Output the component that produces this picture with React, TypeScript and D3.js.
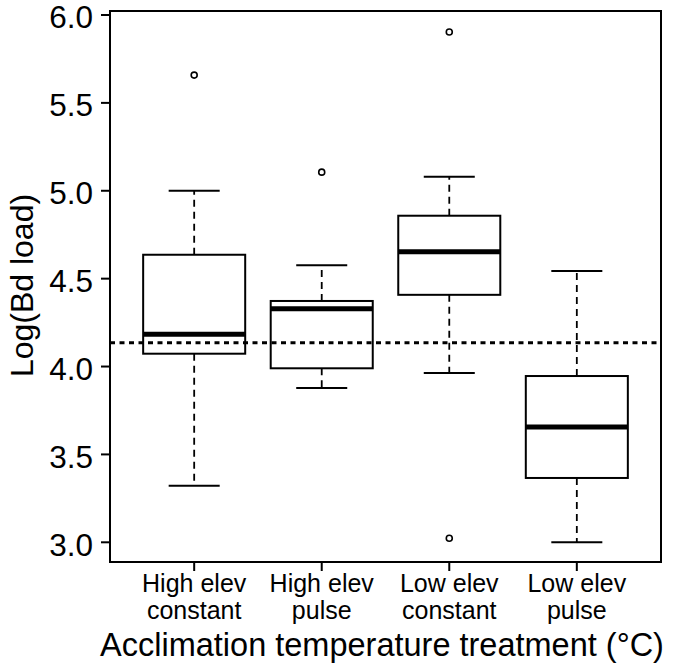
import React from "react";
import * as d3 from "d3";

const categories = ["High elev constant", "High elev pulse", "Low elev constant", "Low elev pulse"];
const labelLine1 = ["High elev", "High elev", "Low elev", "Low elev"];
const labelLine2 = ["constant", "pulse", "constant", "pulse"];
const whiskerLow = [3.322, 3.878, 3.963, 3.0];
const q1 = [4.073, 3.99, 4.408, 3.366];
const median = [4.183, 4.329, 4.653, 3.656];
const q3 = [4.636, 4.373, 4.858, 3.946];
const whiskerHigh = [5.0, 4.576, 5.08, 4.543];
const outliers = [[5.658], [5.106], [5.903, 3.023], []];
const referenceLine = 4.135;
const yTicks = [3.0, 3.5, 4.0, 4.5, 5.0, 5.5, 6.0];

const W = 675;
const H = 665;
const left = 110;
const right = 661;
const top = 11;
const bottom = 562;
const font = "'Liberation Sans', Arial, sans-serif";

export default function App() {
  const x = d3.scaleLinear().domain([0.34, 4.66]).range([left, right]);
  const y = d3.scaleLinear().domain([3, 6]).range([542.3, 15]);
  const unit = x(2) - x(1);
  const boxW = unit * 0.8;
  const capW = unit * 0.4;

  return (
    <svg width={W} height={H} style={{ position: "absolute", left: 0, top: 0 }}>
      <rect x={0} y={0} width={W} height={H} fill="#fff" />
      {categories.map((c, i) => {
        const cx = x(i + 1);
        return (
          <g key={c}>
            <line x1={cx} x2={cx} y1={y(q3[i])} y2={y(whiskerHigh[i])} stroke="#000" strokeWidth={1.8} strokeDasharray="7,5" />
            <line x1={cx} x2={cx} y1={y(q1[i])} y2={y(whiskerLow[i])} stroke="#000" strokeWidth={1.8} strokeDasharray="7,5" />
            <line x1={cx - capW / 2} x2={cx + capW / 2} y1={y(whiskerHigh[i])} y2={y(whiskerHigh[i])} stroke="#000" strokeWidth={2} />
            <line x1={cx - capW / 2} x2={cx + capW / 2} y1={y(whiskerLow[i])} y2={y(whiskerLow[i])} stroke="#000" strokeWidth={2} />
            <rect x={cx - boxW / 2} y={y(q3[i])} width={boxW} height={y(q1[i]) - y(q3[i])} fill="#fff" stroke="#000" strokeWidth={2} />
            <line x1={cx - boxW / 2} x2={cx + boxW / 2} y1={y(median[i])} y2={y(median[i])} stroke="#000" strokeWidth={5} />
            {outliers[i].map((o, j) => (
              <circle key={j} cx={cx} cy={y(o)} r={3} fill="none" stroke="#000" strokeWidth={1.6} />
            ))}
            <line x1={cx} x2={cx} y1={bottom} y2={bottom + 9} stroke="#000" strokeWidth={2} />
            <text x={cx} y={592} textAnchor="middle" fontFamily={font} fontSize={25}>{labelLine1[i]}</text>
            <text x={cx} y={618.5} textAnchor="middle" fontFamily={font} fontSize={25}>{labelLine2[i]}</text>
          </g>
        );
      })}
      <line x1={left} x2={right} y1={y(referenceLine)} y2={y(referenceLine)} stroke="#000" strokeWidth={3} strokeDasharray="5,4.5" />
      <rect x={left} y={top} width={right - left} height={bottom - top} fill="none" stroke="#000" strokeWidth={2} />
      {yTicks.map((t) => (
        <g key={t}>
          <line x1={left - 9} x2={left} y1={y(t)} y2={y(t)} stroke="#000" strokeWidth={2} />
          <text x={93} y={y(t)} dy="0.42em" textAnchor="end" fontFamily={font} fontSize={31.5}>{d3.format(".1f")(t)}</text>
        </g>
      ))}
      <text transform={`translate(33,${285.5}) rotate(-90)`} textAnchor="middle" fontFamily={font} fontSize={32}>Log(Bd load)</text>
      <text x={382} y={656} textAnchor="middle" fontFamily={font} fontSize={32.5}>Acclimation temperature treatment (°C)</text>
    </svg>
  );
}
